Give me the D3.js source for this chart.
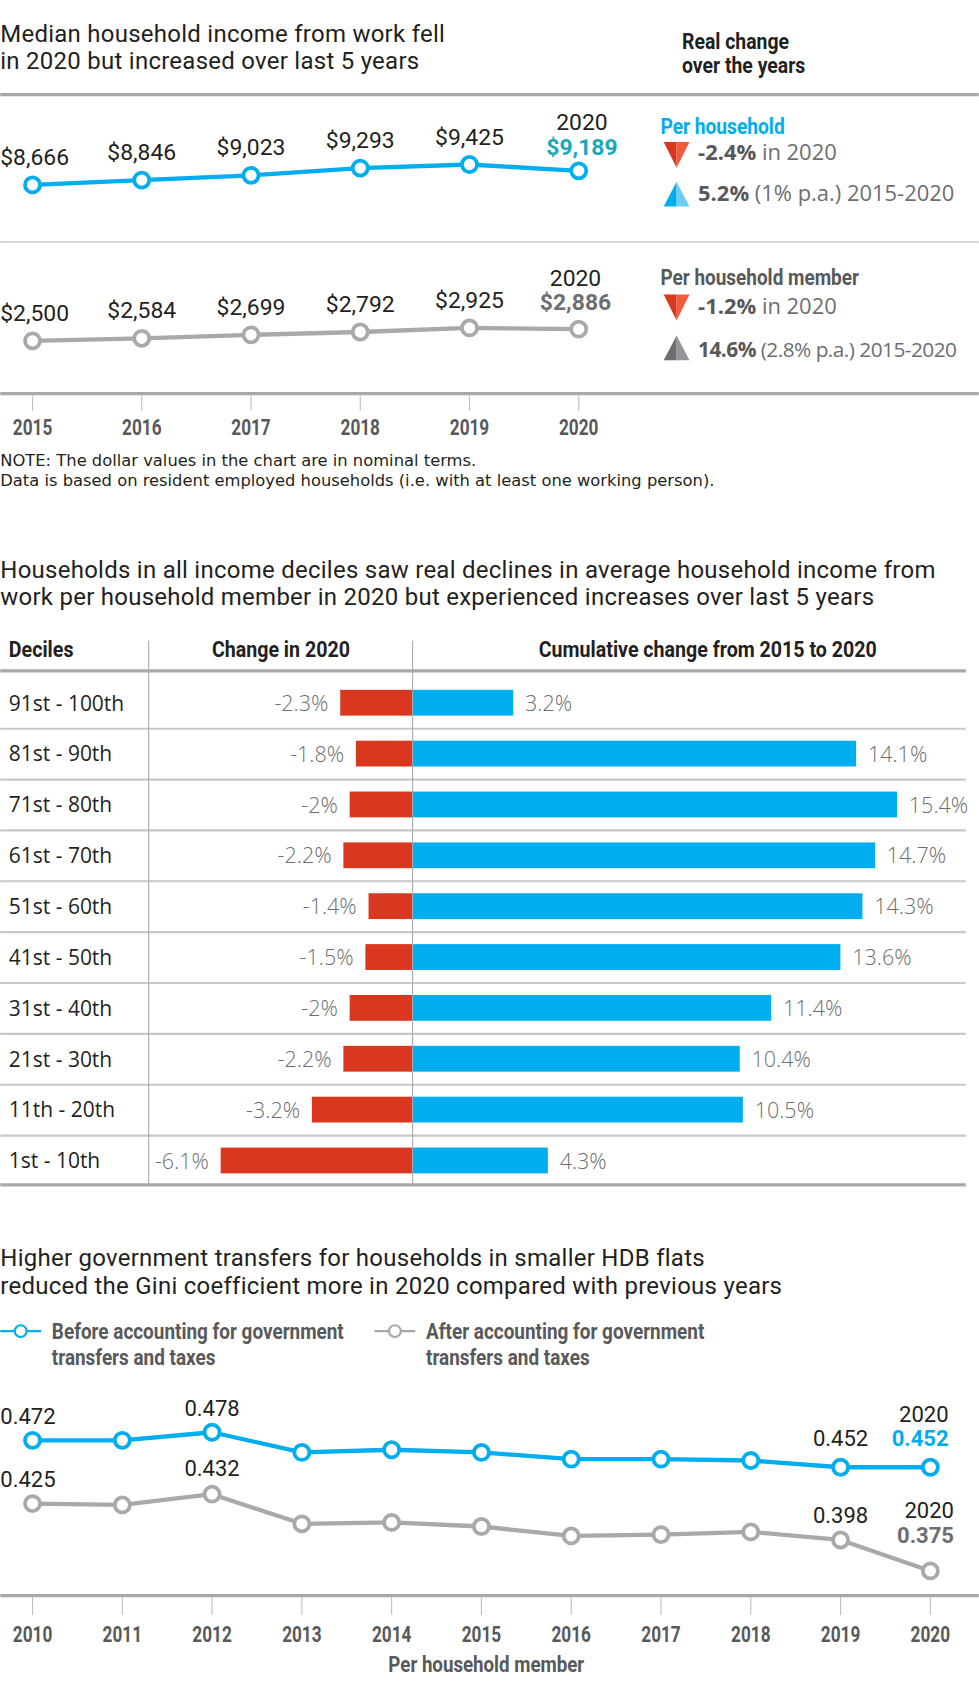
<!DOCTYPE html>
<html><head><meta charset="utf-8">
<script src="https://cdn.jsdelivr.net/npm/d3@7"></script>
<style>
html,body{margin:0;padding:0;background:#fff;}
svg{display:block;}
</style></head>
<body>
<script>
// ---------- DATA ----------
const years1 = [2015, 2016, 2017, 2018, 2019, 2020];
const perHousehold = [8666, 8846, 9023, 9293, 9425, 9189];
const perMember = [2500, 2584, 2699, 2792, 2925, 2886];

const deciles = ["91st - 100th","81st - 90th","71st - 80th","61st - 70th","51st - 60th","41st - 50th","31st - 40th","21st - 30th","11th - 20th","1st - 10th"];
const change2020 = [-2.3, -1.8, -2, -2.2, -1.4, -1.5, -2, -2.2, -3.2, -6.1];
const cumulative = [3.2, 14.1, 15.4, 14.7, 14.3, 13.6, 11.4, 10.4, 10.5, 4.3];

const giniYears = [2010, 2011, 2012, 2013, 2014, 2015, 2016, 2017, 2018, 2019, 2020];
const giniBefore = [0.472, 0.472, 0.478, 0.463, 0.465, 0.463, 0.458, 0.458, 0.457, 0.452, 0.452];
const giniAfter = [0.425, 0.424, 0.432, 0.410, 0.411, 0.408, 0.401, 0.402, 0.404, 0.398, 0.375];

// ---------- STYLE ----------
const BLUE = "#00aeef", BLUE_L = "#6dcff6", RED = "#d9381e", RED_L = "#ef5b3c";
const GREY_LINE = "#a7a9ac", DARK = "#231f20", MID = "#58595b", LIGHT = "#6d6e71";
const TEAL = "#19a9b8";
const REG = "Roboto, 'Open Sans', sans-serif";
const WIDE = "'Open Sans', Roboto, sans-serif";
const NOTE = "'DejaVu Sans', 'Open Sans', sans-serif";
const COND = "Roboto, sans-serif";
const SX = 0.88;

const svg = d3.select("body").append("svg")
  .attr("width", 979).attr("height", 1686)
  .attr("viewBox", "0 0 910 1568");

function txt(g, x, y, s, o = {}) {
  const t = g.append("text").attr("x", x).attr("y", y).attr("dy", "0.35em")
    .attr("font-family", o.ff || REG).attr("font-size", o.fs || 20)
    .attr("font-weight", o.fw || 400).attr("fill", o.fill || DARK)
    .attr("text-anchor", o.anchor || "start").text(s);
  if (o.ls) t.attr("letter-spacing", o.ls);
  return t;
}
// condensed bold text (horizontally compressed)
function ctxt(g, x, y, s, o = {}) {
  return g.append("text").attr("transform", `translate(${x},${y}) scale(${o.sx || SX},1)`)
    .attr("dy", "0.35em")
    .attr("font-family", COND).attr("font-size", o.fs || 20)
    .attr("font-weight", 700).attr("fill", o.fill || DARK)
    .attr("text-anchor", o.anchor || "start").text(s);
}
function hline(g, x1, x2, y, w, c) {
  g.append("line").attr("x1", x1).attr("x2", x2).attr("y1", y).attr("y2", y)
    .attr("stroke", c).attr("stroke-width", w);
}
const TFS = 22.3, TLS = 0.25;

// ================= SECTION 1 =================
const s1 = svg.append("g");
txt(s1, 0, 31, "Median household income from work fell", {fs: TFS, ls: TLS});
txt(s1, 0, 56, "in 2020 but increased over last 5 years", {fs: TFS, ls: TLS});
ctxt(s1, 634, 38, "Real change", {fs: 21, sx: 0.86});
ctxt(s1, 634, 61, "over the years", {fs: 21, sx: 0.86});
hline(s1, 0, 910, 88, 3, GREY_LINE);
hline(s1, 0, 910, 225, 1.5, "#c7c8ca");
hline(s1, 0, 910, 366, 3, GREY_LINE);

const x1 = d3.scaleLinear().domain([2015, 2020]).range([30, 538]);
const yHH = d3.scaleLinear().domain([8666, 9425]).range([172, 153]);
const yMM = d3.scaleLinear().domain([2500, 2925]).range([317, 305]);

function drawSeries(g, xs, ys, xScale, yScale, color, r, sw) {
  const pts = xs.map((d, i) => [xScale(d), yScale(ys[i])]);
  g.append("path").attr("d", d3.line()(pts)).attr("fill", "none")
    .attr("stroke", color).attr("stroke-width", sw).attr("stroke-linejoin", "round");
  g.selectAll(null).data(pts).enter().append("circle")
    .attr("cx", d => d[0]).attr("cy", d => d[1]).attr("r", r)
    .attr("fill", "#fff").attr("stroke", color).attr("stroke-width", sw - 0.5);
  return pts;
}
drawSeries(s1, years1, perHousehold, x1, yHH, BLUE, 7, 4);
drawSeries(s1, years1, perMember, x1, yMM, GREY_LINE, 7, 4);

const fmt$ = d => "$" + d3.format(",")(d);
const DFS = 21.3;
years1.forEach((yr, i) => {
  if (i < years1.length - 1) {
    const a = i === 0 ? "start" : "middle";
    const xx = i === 0 ? 0 : x1(yr);
    txt(s1, xx, yHH(perHousehold[i]) - 26, fmt$(perHousehold[i]), {fs: DFS, anchor: a});
    txt(s1, xx, yMM(perMember[i]) - 26, fmt$(perMember[i]), {fs: DFS, anchor: a});
  }
});
{
  const i = years1.length - 1;
  txt(s1, x1(2020) + 3, yHH(perHousehold[i]) - 45, "2020", {fs: DFS, anchor: "middle"});
  txt(s1, x1(2020) + 3, yHH(perHousehold[i]) - 22, fmt$(perHousehold[i]), {fs: DFS, fw: 700, fill: TEAL, anchor: "middle"});
  txt(s1, x1(2020) - 3, yMM(perMember[i]) - 48, "2020", {fs: DFS, anchor: "middle"});
  txt(s1, x1(2020) - 3, yMM(perMember[i]) - 25, fmt$(perMember[i]), {fs: DFS, fw: 700, fill: LIGHT, anchor: "middle"});
}

// ticks & axis labels
years1.forEach(yr => {
  s1.append("line").attr("x1", x1(yr)).attr("x2", x1(yr)).attr("y1", 367).attr("y2", 382)
    .attr("stroke", "#bcbec0").attr("stroke-width", 1);
  ctxt(s1, x1(yr), 398, String(yr), {fs: 20, sx: 0.8, fill: MID, anchor: "middle"});
});
txt(s1, 0, 428.5, "NOTE: The dollar values in the chart are in nominal terms.", {ff: NOTE, fs: 15.2});
txt(s1, 0, 446.5, "Data is based on resident employed households (i.e. with at least one working person).", {ff: NOTE, fs: 15.2});

// right side annotation
function tri(g, cx, top, h, w, down, cL, cR) {
  const hw = w / 2;
  if (down) {
    g.append("path").attr("d", `M${cx - hw},${top}L${cx},${top}L${cx},${top + h}Z`).attr("fill", cL);
    g.append("path").attr("d", `M${cx},${top}L${cx + hw},${top}L${cx},${top + h}Z`).attr("fill", cR);
  } else {
    g.append("path").attr("d", `M${cx - hw},${top + h}L${cx},${top + h}L${cx},${top}Z`).attr("fill", cL);
    g.append("path").attr("d", `M${cx},${top + h}L${cx + hw},${top + h}L${cx},${top}Z`).attr("fill", cR);
  }
}
function richLine(g, x, y, bold, rest, fs = 20.4, ls = 0) {
  const t = g.append("text").attr("x", x).attr("y", y).attr("dy", "0.35em")
    .attr("font-family", WIDE).attr("font-size", fs).attr("letter-spacing", ls);
  t.append("tspan").attr("font-weight", 700).attr("fill", MID).text(bold);
  t.append("tspan").attr("fill", LIGHT).text(rest);
}
ctxt(s1, 614, 117, "Per household", {fs: 20.5, sx: 0.87, fill: BLUE});
tri(s1, 629, 132, 24, 24, true, RED, RED_L);
richLine(s1, 649, 142, "-2.4%", " in 2020");
tri(s1, 629, 169, 23, 24, false, BLUE, BLUE_L);
richLine(s1, 649, 180, "5.2%", " (1% p.a.) 2015-2020");

ctxt(s1, 614, 258, "Per household member", {fs: 20.5, sx: 0.86, fill: MID});
tri(s1, 629, 274, 24, 24, true, RED, RED_L);
richLine(s1, 649, 285, "-1.2%", " in 2020");
tri(s1, 629, 312, 23, 24, false, "#6d6e71", "#939598");
richLine(s1, 649, 325, "14.6%", " (2.8% p.a.) 2015-2020", 19.4, -0.5);

// ================= SECTION 2 =================
const s2 = svg.append("g");
txt(s2, 0, 530, "Households in all income deciles saw real declines in average household income from", {fs: TFS, ls: TLS});
txt(s2, 0, 555, "work per household member in 2020 but experienced increases over last 5 years", {fs: TFS, ls: TLS});

const xb = d3.scaleLinear().domain([-6.1, 15.4]).range([205, 834]);
const yb = d3.scaleBand().domain(deciles).range([630.4, 1103.4]);

ctxt(s2, 8, 604, "Deciles", {fs: 20.5, sx: 0.89});
ctxt(s2, 261, 604, "Change in 2020", {fs: 20.5, sx: 0.89, anchor: "middle"});
ctxt(s2, 658, 604, "Cumulative change from 2015 to 2020", {fs: 20.5, sx: 0.89, anchor: "middle"});

deciles.slice(1).forEach(d => hline(s2, 0, 898, yb(d), 2, "#c7c8ca"));
hline(s2, 0, 898, 624, 3, GREY_LINE);
hline(s2, 0, 898, 1102, 3, GREY_LINE);

const bh = 24;
s2.selectAll(null).data(deciles).enter().append("rect")
  .attr("x", (d, i) => xb(change2020[i])).attr("width", (d, i) => xb(0) - xb(change2020[i]))
  .attr("y", d => yb(d) + yb.bandwidth() / 2 - bh / 2 - 0.5).attr("height", bh).attr("fill", RED);
s2.selectAll(null).data(deciles).enter().append("rect")
  .attr("x", xb(0)).attr("width", (d, i) => xb(cumulative[i]) - xb(0))
  .attr("y", d => yb(d) + yb.bandwidth() / 2 - bh / 2 - 0.5).attr("height", bh).attr("fill", BLUE);

[138, xb(0)].forEach(xx => s2.append("line").attr("x1", xx).attr("x2", xx)
  .attr("y1", 596).attr("y2", 1102).attr("stroke", "#a7a9ac").attr("stroke-width", 1));

deciles.forEach((d, i) => {
  const cy = yb(d) + yb.bandwidth() / 2;
  txt(s2, 8, cy, d, {ff: WIDE, fs: 19.5});
  txt(s2, xb(change2020[i]) - 11, cy, change2020[i] + "%", {ff: WIDE, fs: 20, fw: 300, fill: LIGHT, anchor: "end"});
  txt(s2, xb(cumulative[i]) + 11, cy, cumulative[i] + "%", {ff: WIDE, fs: 20, fw: 300, fill: LIGHT});
});

// ================= SECTION 3 =================
const s3 = svg.append("g");
txt(s3, 0, 1170, "Higher government transfers for households in smaller HDB flats", {fs: TFS, ls: TLS});
txt(s3, 0, 1196, "reduced the Gini coefficient more in 2020 compared with previous years", {fs: TFS, ls: TLS});

function legendItem(g, x, color, l1, l2) {
  hline(g, x, x + 38, 1238, 2, color);
  g.append("circle").attr("cx", x + 19).attr("cy", 1238).attr("r", 5.5)
    .attr("fill", "#fff").attr("stroke", color).attr("stroke-width", 2);
  ctxt(g, x + 48, 1238, l1, {fs: 20, sx: 0.88, fill: MID});
  ctxt(g, x + 48, 1262, l2, {fs: 20, sx: 0.88, fill: MID});
}
legendItem(s3, 0, BLUE, "Before accounting for government", "transfers and taxes");
legendItem(s3, 348, GREY_LINE, "After accounting for government", "transfers and taxes");

const xg = d3.scaleLinear().domain([2010, 2020]).range([30, 865]);
const yg = d3.scaleLinear().domain([0.375, 0.478]).range([1461, 1332]);
hline(s3, 0, 910, 1484, 3, GREY_LINE);
giniYears.forEach(yr => {
  s3.append("line").attr("x1", xg(yr)).attr("x2", xg(yr)).attr("y1", 1485).attr("y2", 1502)
    .attr("stroke", "#bcbec0").attr("stroke-width", 1);
  ctxt(s3, xg(yr), 1520, String(yr), {fs: 20, sx: 0.8, fill: MID, anchor: "middle"});
});
ctxt(s3, 452, 1548, "Per household member", {fs: 20, sx: 0.87, fill: MID, anchor: "middle"});

drawSeries(s3, giniYears, giniAfter, xg, yg, GREY_LINE, 7, 4);
drawSeries(s3, giniYears, giniBefore, xg, yg, BLUE, 7, 4);

const f3 = d3.format(".3f");
const GFS = 20.5;
txt(s3, 0, yg(giniBefore[0]) - 22, f3(giniBefore[0]), {fs: GFS});
txt(s3, xg(2012), yg(giniBefore[2]) - 22, f3(giniBefore[2]), {fs: GFS, anchor: "middle"});
txt(s3, 0, yg(giniAfter[0]) - 23, f3(giniAfter[0]), {fs: GFS});
txt(s3, xg(2012), yg(giniAfter[2]) - 24, f3(giniAfter[2]), {fs: GFS, anchor: "middle"});
txt(s3, xg(2019), yg(giniBefore[9]) - 27, f3(giniBefore[9]), {fs: GFS, anchor: "middle"});
txt(s3, xg(2019), yg(giniAfter[9]) - 23, f3(giniAfter[9]), {fs: GFS, anchor: "middle"});
txt(s3, 882, yg(giniBefore[10]) - 49, "2020", {fs: GFS, anchor: "end"});
txt(s3, 882, yg(giniBefore[10]) - 27, f3(giniBefore[10]), {fs: GFS, fw: 700, fill: BLUE, anchor: "end"});
txt(s3, 887, yg(giniAfter[10]) - 56, "2020", {fs: GFS, anchor: "end"});
txt(s3, 887, yg(giniAfter[10]) - 33, f3(giniAfter[10]), {fs: GFS, fw: 700, fill: LIGHT, anchor: "end"});
</script>
</body></html>
